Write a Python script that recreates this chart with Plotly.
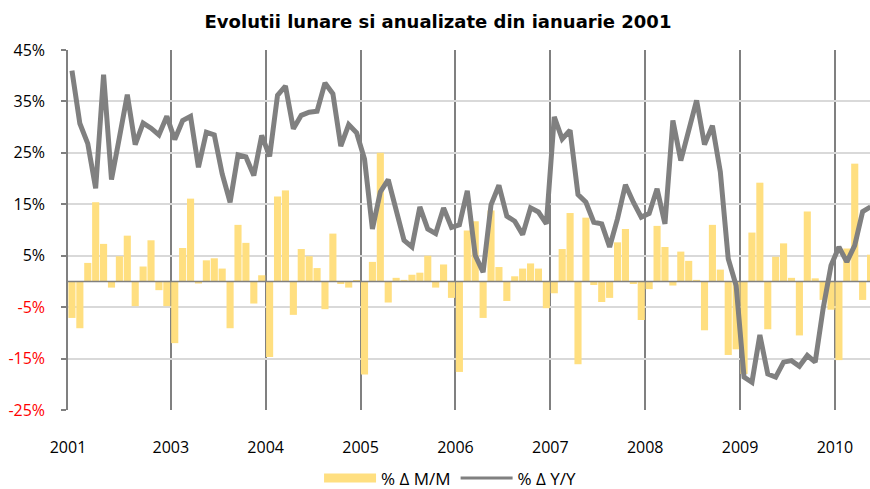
import plotly.graph_objects as go

# Monthly change (% Δ M/M), one value per month
mm = [
    -7.1, -9.1, 3.6, 15.4, 7.3, -1.2, 4.9, 8.9, -4.8, 2.9, 8.0, -1.7, -4.8,
    -12.0, 6.5, 16.1, -0.4, 4.1, 4.5, 2.5, -9.1, 11.0, 7.5, -4.3, 1.2,
    -14.7, 16.5, 17.7, -6.5, 6.3, 4.9, 2.6, -5.4, 9.3, -0.5, -1.2, 0.2,
    -18.1, 3.8, 25.0, -4.1, 0.7, 0.3, 1.3, 1.7, 5.0, -1.2, 3.3, -3.2,
    -17.6, 9.9, 11.7, -7.1, 13.8, 2.8, -3.8, 1.0, 2.5, 3.5, 2.5, -5.2,
    -2.3, 6.3, 13.3, -16.1, 12.4, -0.7, -4.0, -3.2, 7.6, 10.2, -0.5, -7.5,
    -1.5, 10.8, 6.7, -0.8, 5.8, 4.0, 0.3, -9.5, 11.0, 2.3, -14.3, -13.2,
    -18.0, 9.5, 19.2, -9.3, 4.8, 7.4, 0.7, -10.5, 13.6, 0.6, -3.6, -5.5,
    -15.3, 6.4, 22.9, -3.6, 5.2,
]

# Annual change (% Δ Y/Y)
yy = [
    41.0, 30.7, 26.8, 18.1, 40.2, 19.8, 28.0, 36.3, 26.6, 30.8, 29.8, 28.5, 32.1,
    27.6, 31.3, 32.1, 22.2, 29.0, 28.5, 20.9, 15.4, 24.6, 24.2, 20.6, 28.4,
    24.3, 36.2, 38.0, 29.7, 32.3, 32.9, 33.1, 38.6, 36.5, 26.3, 30.5, 28.9,
    23.8, 10.2, 17.4, 19.8, 14.1, 8.0, 6.7, 14.5, 10.2, 9.3, 14.3, 10.5,
    11.0, 17.6, 5.1, 1.8, 14.9, 18.7, 12.7, 11.7, 9.1, 14.3, 13.5, 11.2,
    32.0, 27.7, 29.4, 16.9, 15.4, 11.5, 11.2, 6.7, 12.2, 18.8, 15.4, 12.5,
    13.2, 18.0, 11.2, 31.3, 23.5, 29.4, 35.2, 26.6, 30.3, 21.3, 4.4, -0.8,
    -18.6, -19.6, -10.4, -18.0, -18.6, -15.7, -15.4, -16.5, -14.4, -15.7, -5.3, 3.1,
    6.7, 3.8, 7.0, 13.6, 14.5,
]

months = list(range(len(mm)))

# Year boundary positions (category index edges) and their labels
year_edges = [-0.5, 12.5, 24.5, 36.5, 48.5, 60.5, 72.5, 84.5, 96.5]
year_labels = ["2001", "2003", "2004", "2005", "2006", "2007", "2008", "2009", "2010"]

y_ticks = [-25, -15, -5, 5, 15, 25, 35, 45]
y_labels = [
    f"<span style='color:#FF0000'>{v}%</span>" if v < 0 else f"{v}%" for v in y_ticks
]

FONT = "Open Sans, Liberation Sans, Arial, sans-serif"
TITLE_FONT = "DejaVu Sans, Verdana, sans-serif"
BAR_COLOR = "#FFDF80"
LINE_COLOR = "#808080"

fig = go.Figure()
fig.add_trace(go.Bar(
    x=months, y=mm, name="% Δ M/M", showlegend=False,
    marker=dict(color=BAR_COLOR, line=dict(width=0)),
))
fig.add_trace(go.Scatter(
    x=months, y=yy, name="% Δ Y/Y", mode="lines", showlegend=False,
    line=dict(color=LINE_COLOR, width=5),
))
# legend entries (wide swatches like the original)
fig.add_trace(go.Scatter(
    x=[None], y=[None], name="% Δ M/M", mode="lines",
    line=dict(color=BAR_COLOR, width=9),
))
fig.add_trace(go.Scatter(
    x=[None], y=[None], name="% Δ Y/Y", mode="lines",
    line=dict(color=LINE_COLOR, width=3),
))

fig.add_shape(type="line", xref="paper", x0=0, x1=1, yref="y", y0=0, y1=0,
              line=dict(color="#808080", width=1.5), layer="above")

fig.update_layout(
    width=870, height=489,
    margin=dict(l=68, r=0, t=50, b=79, autoexpand=False),
    paper_bgcolor="white", plot_bgcolor="white",
    font=dict(family=FONT, size=15, color="#000000"),
    title=dict(text="<b>Evolutii lunare si anualizate din ianuarie 2001</b>",
               x=438 / 870, xref="container", xanchor="center",
               y=1 - 22 / 489, yref="container", yanchor="middle",
               font=dict(family=TITLE_FONT, size=18, color="#000000")),
    bargap=0.1,
    showlegend=True,
    legend=dict(orientation="h", x=0.477, xanchor="center", y=-0.19, yanchor="middle",
                font=dict(family=FONT, size=17), itemwidth=52,
                traceorder="normal"),
)

fig.update_xaxes(
    range=[-0.5, 100.93], automargin=False,
    tickmode="array", tickvals=year_edges, ticktext=year_labels,
    showgrid=True, gridcolor="#808080", gridwidth=1.5,
    ticks="", ticklabelstandoff=26,
    tickfont=dict(family=FONT, size=16),
    showline=False, zeroline=False,
)
fig.update_yaxes(
    range=[-25, 45], automargin=False,
    tickmode="array", tickvals=y_ticks, ticktext=y_labels,
    showgrid=True, gridcolor="#D9D9D9", gridwidth=1.5,
    zeroline=False,
    showline=True, linecolor="#808080", linewidth=1.5,
    ticks="outside", ticklen=5, tickcolor="#808080", tickwidth=1.5,
    ticklabelstandoff=13,
    tickfont=dict(family=FONT, size=16),
)

fig.write_html("out.html", config={"displayModeBar": False},
               post_script="document.body.style.margin='0';")
